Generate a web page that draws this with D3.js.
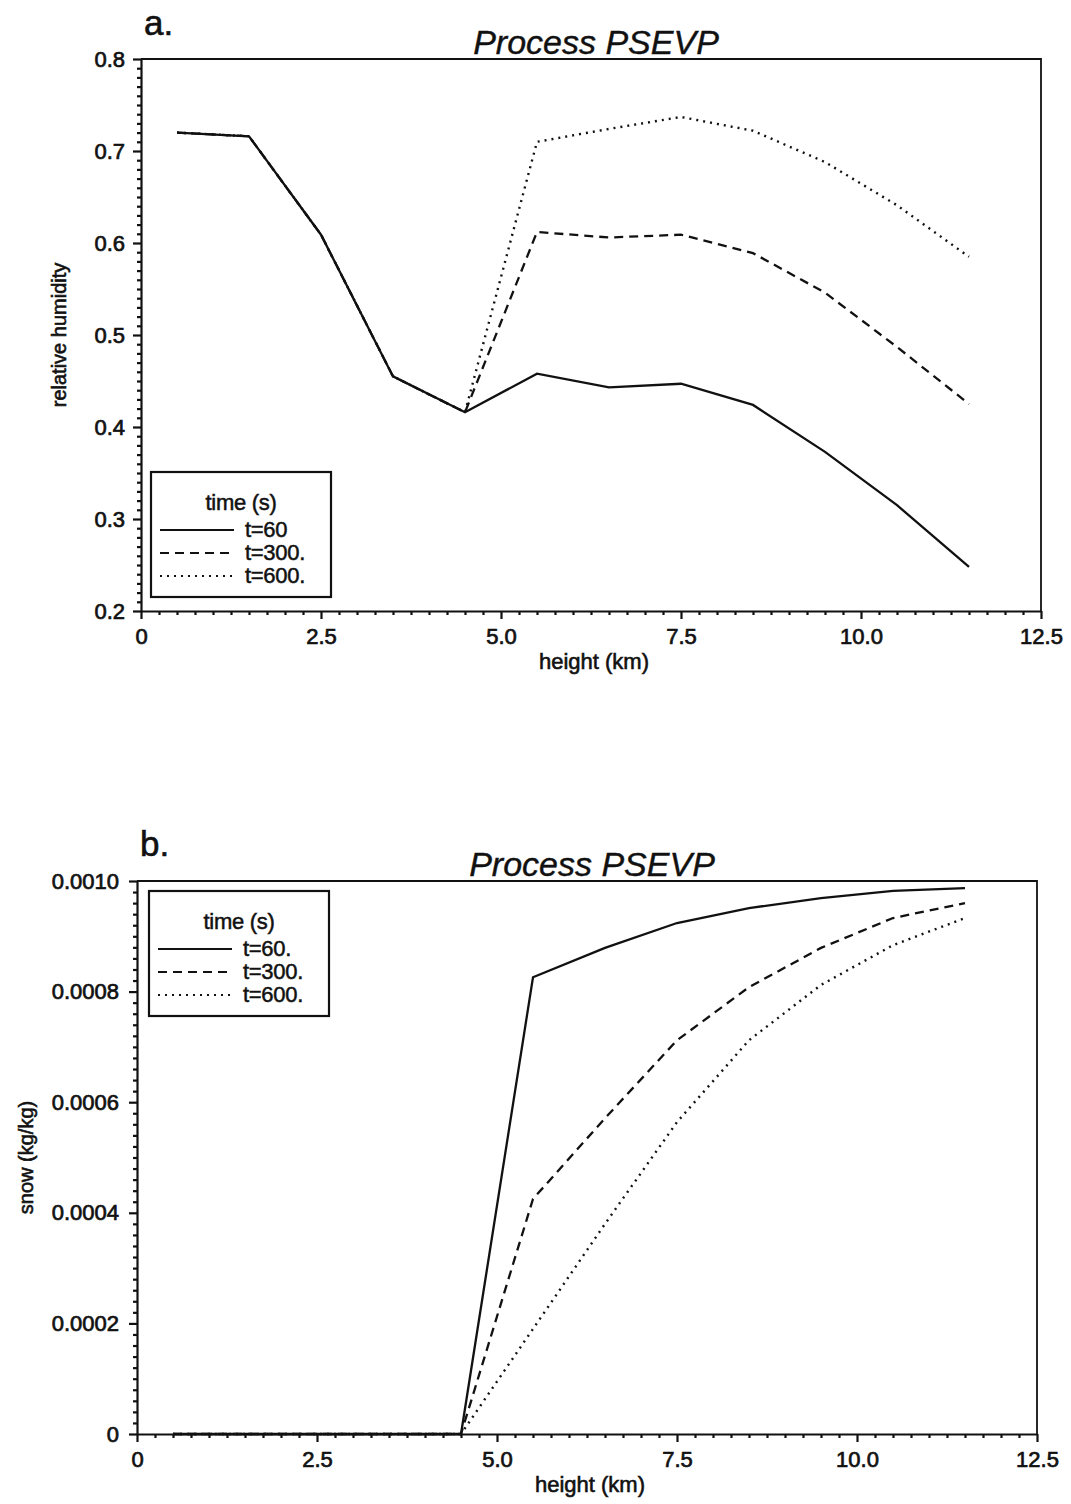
<!DOCTYPE html>
<html lang="en">
<head>
<meta charset="UTF-8">
<title>Process PSEVP</title>
<script src="https://cdnjs.cloudflare.com/ajax/libs/d3/7.8.2/d3.min.js"></script>
<style>
    body { margin: 0; background: #fff; }
    svg { display: block; font-family: "Liberation Sans", Arial, Helvetica, sans-serif; }
    .tick text { font-size: 22px; fill: #111; stroke: #111; stroke-width: 0.7px; }
    .axis path, .axis line { stroke: #111; }
    .label { font-size: 22px; fill: #111; stroke: #111; stroke-width: 0.6px; }
    .legend text { font-size: 22px; fill: #111; stroke: #111; stroke-width: 0.5px; letter-spacing: -0.3px; }
</style>
</head>
<body>
<div id="chart"></div>
<script>
    // data
    const heights = [0.5, 1.5, 2.5, 3.5, 4.5, 5.5, 6.5, 7.5, 8.5, 9.5, 10.5, 11.5];

    const rh60  = [0.720, 0.716, 0.609, 0.455, 0.416, 0.458, 0.443, 0.447, 0.424, 0.373, 0.315, 0.248];
    const rh300 = [0.720, 0.716, 0.609, 0.455, 0.416, 0.612, 0.606, 0.609, 0.589, 0.546, 0.487, 0.425];
    const rh600 = [0.720, 0.716, 0.609, 0.455, 0.416, 0.710, 0.724, 0.737, 0.722, 0.688, 0.641, 0.585];

    const snow60  = [0, 0, 0, 0, 0, 0.000826, 0.000879, 0.000924, 0.000951, 0.000969, 0.000982, 0.000987];
    const snow300 = [0, 0, 0, 0, 0, 0.000425, 0.000571, 0.000712, 0.000808, 0.000879, 0.000933, 0.000960];
    const snow600 = [0, 0, 0, 0, 0, 0.000190, 0.000380, 0.000564, 0.000712, 0.000812, 0.000884, 0.000933];

    const namesA = ['t=60', 't=300.', 't=600.'];
    const namesB = ['t=60.', 't=300.', 't=600.'];

    const xTicks = [0, 2.5, 5, 7.5, 10, 12.5];
    const xTickLabels = ['0', '2.5', '5.0', '7.5', '10.0', '12.5'];
    const rhTicks = [0.2, 0.3, 0.4, 0.5, 0.6, 0.7, 0.8];
    const rhTickLabels = ['0.2', '0.3', '0.4', '0.5', '0.6', '0.7', '0.8'];
    const snowTicks = [0, 0.0002, 0.0004, 0.0006, 0.0008, 0.0010];
    const snowTickLabels = ['0', '0.0002', '0.0004', '0.0006', '0.0008', '0.0010'];

    const dashes = [null, '9,6', '2,5'];

    const width = 1071;
    const height = 1504;

    const svg = d3.select('#chart').append('svg')
        .attr('width', width)
        .attr('height', height);

    const drawPanel = (p) => {
        const x = d3.scaleLinear().domain([0, 12.5]).range([p.left, p.right]);
        const y = d3.scaleLinear().domain(p.yDomain).range([p.bottom, p.top]);
        const g = svg.append('g');

        // minor ticks
        const xMinor = d3.range(0, 51).map(i => i * 0.25).filter((d, i) => i % 10 != 0);
        const yMinor = d3.range(0, 61).map(i => p.yDomain[0] + i * p.yMinor).filter((d, i) => i % 10 != 0);

        g.append('g').attr('class', 'axis')
            .attr('transform', `translate(0,${p.bottom})`)
            .call(d3.axisBottom(x).tickValues(xMinor).tickSize(4).tickFormat(''))
            .call(s => s.select('.domain').remove())
            .selectAll('line').attr('stroke-width', 2.2);

        g.append('g').attr('class', 'axis')
            .attr('transform', `translate(${p.left},0)`)
            .call(d3.axisLeft(y).tickValues(yMinor.filter(d => d <= p.yDomain[1] + 1e-12)).tickSize(4).tickFormat(''))
            .call(s => s.select('.domain').remove())
            .selectAll('line').attr('stroke-width', 2.2);

        // major ticks
        const xAxis = g.append('g').attr('class', 'axis')
            .attr('transform', `translate(0,${p.bottom})`)
            .call(d3.axisBottom(x).tickValues(xTicks).tickSize(8).tickSizeOuter(0).tickPadding(9)
                .tickFormat((d, i) => xTickLabels[i]));
        xAxis.select('.domain').attr('stroke-width', 2.2);
        xAxis.selectAll('line').attr('stroke-width', 2.2);

        const yAxis = g.append('g').attr('class', 'axis')
            .attr('transform', `translate(${p.left},0)`)
            .call(d3.axisLeft(y).tickValues(p.yTicks).tickSize(8).tickSizeOuter(0).tickPadding(p.yPad)
                .tickFormat((d, i) => p.yTickLabels[i]));
        yAxis.select('.domain').attr('stroke-width', 2.2);
        yAxis.selectAll('line').attr('stroke-width', 2.2);

        // frame top and right
        g.append('path')
            .attr('d', `M${p.left},${p.top}H${p.right}V${p.bottom}`)
            .attr('fill', 'none')
            .attr('stroke', '#111')
            .attr('stroke-width', 1.8);

        // lines
        const line = d3.line().x((d, i) => x(heights[i])).y(d => y(d));
        p.series.forEach((s, k) => {
            g.append('path')
                .datum(s)
                .attr('d', line)
                .attr('fill', 'none')
                .attr('stroke', '#111')
                .attr('stroke-width', k == 2 ? 2.4 : 2.3)
                .attr('stroke-dasharray', dashes[k]);
        });

        // texts
        g.append('text')
            .text(p.letter)
            .attr('x', p.left + 3)
            .attr('y', p.letterY)
            .style('font-size', '35px')
            .style('fill', '#111')
            .style('stroke', '#111')
            .style('stroke-width', '0.6px');

        g.append('text')
            .text('Process PSEVP')
            .attr('x', (p.left + p.right) / 2 + 5)
            .attr('y', p.top - 5)
            .attr('text-anchor', 'middle')
            .style('font-size', '34px')
            .style('font-style', 'italic')
            .style('fill', '#111')
            .style('stroke', '#111')
            .style('stroke-width', '0.4px');

        g.append('text')
            .attr('class', 'label')
            .text('height (km)')
            .attr('x', (p.left + p.right) / 2 + 3)
            .attr('y', p.bottom + 58)
            .attr('text-anchor', 'middle');

        g.append('text')
            .attr('class', 'label')
            .text(p.yTitle)
            .attr('transform', `translate(${p.yTitleX},${(p.top + p.bottom) / 2}) rotate(-90)`)
            .attr('text-anchor', 'middle')
            .style('font-size', '20px');

        // legend
        const lg = g.append('g').attr('class', 'legend')
            .attr('transform', `translate(${p.legend[0]},${p.legend[1]})`);
        lg.append('rect')
            .attr('width', 180)
            .attr('height', 125)
            .attr('fill', '#fff')
            .attr('stroke', '#111')
            .attr('stroke-width', 2.2);
        lg.append('text')
            .text('time (s)')
            .attr('x', 90)
            .attr('y', 38)
            .attr('text-anchor', 'middle');
        p.names.forEach((n, k) => {
            lg.append('line')
                .attr('x1', 9).attr('x2', 83)
                .attr('y1', 58 + k * 23).attr('y2', 58 + k * 23)
                .attr('stroke', '#111')
                .attr('stroke-width', 2.2)
                .attr('stroke-dasharray', dashes[k]);
            lg.append('text')
                .text(n)
                .attr('x', 94)
                .attr('y', 65 + k * 23);
        });
    };

    drawPanel({
        left: 141, right: 1041, top: 59, bottom: 611,
        yDomain: [0.2, 0.8], yMinor: 0.01,
        yTicks: rhTicks, yTickLabels: rhTickLabels, yPad: 8,
        yTitle: 'relative humidity', yTitleX: 66,
        letter: 'a.', letterY: 35,
        legend: [151, 472], names: namesA,
        series: [rh60, rh300, rh600]
    });

    drawPanel({
        left: 137, right: 1037, top: 881, bottom: 1434,
        yDomain: [0, 0.001], yMinor: 0.00002,
        yTicks: snowTicks, yTickLabels: snowTickLabels, yPad: 10,
        yTitle: 'snow (kg/kg)', yTitleX: 33,
        letter: 'b.', letterY: 856,
        legend: [149, 891], names: namesB,
        series: [snow60, snow300, snow600]
    });
</script>
</body>
</html>
